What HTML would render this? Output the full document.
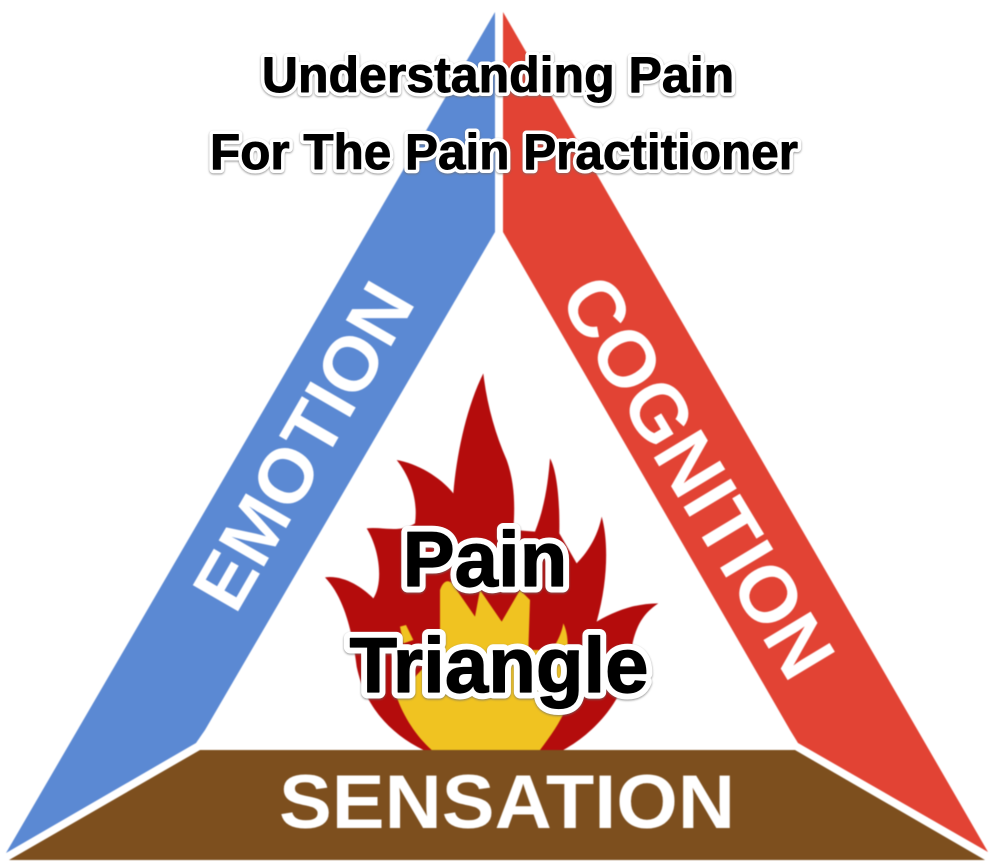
<!DOCTYPE html>
<html><head><meta charset="utf-8"><style>
html,body{margin:0;padding:0;background:#fff;width:1005px;height:868px;overflow:hidden}
svg{display:block}
text{font-family:"Liberation Sans",sans-serif;font-weight:bold}
.h{fill:#fff;stroke:#fff;stroke-linejoin:round;filter:drop-shadow(0 1px 1px rgba(110,110,110,.75))}
.o{fill:#000;stroke:#000;stroke-linejoin:round}
.w{fill:#fff}
.s{filter:blur(.5px)}
</style></head><body>
<svg width="1005" height="868" viewBox="0 0 1005 868" xmlns="http://www.w3.org/2000/svg">
<rect width="1005" height="868" fill="#fff"/>
<g class="s">
<polygon points="495,12 495,232 205,730 196,743 6,853" fill="#5b89d3"/>
<polygon points="503,12 503,232 790,730 798,743 988,852" fill="#e24334"/>
<g transform="translate(300 360) scale(.33333)">
<path fill="#b40c0c" d="M550 40 C560 130 585 220 620 300 C645 370 645 440 640 510 L705 515 C735 440 745 360 750 295 C770 330 780 420 778 520 L830 610 C870 570 895 520 905 470 C925 540 925 660 890 785 C950 750 1010 730 1075 730 C1030 760 1000 800 990 900 C980 1000 900 1110 790 1170 L370 1170 C270 1120 195 1040 170 920 C160 840 140 720 75 652 C130 645 185 680 220 715 C250 670 240 570 200 505 C250 500 300 520 345 490 C355 420 330 350 290 300 C350 310 420 350 460 400 C470 280 500 140 550 40 Z"/>
<path fill="#f0c321" d="M420 690 C430 660 450 650 470 690 L525 770 L540 690 L605 785 L660 690 L690 720 L685 870 L755 870 C770 850 785 820 790 790 C805 820 805 860 800 900 L800 1040 C780 1090 750 1130 720 1170 L395 1170 C350 1130 310 1070 290 1010 L420 870 Z"/>
<path fill="#f0c321" d="M300 800 L318 795 L340 840 L310 850 Z"/>
</g>
<polygon points="200,750 795,750 985,860 9,860" fill="#7d4f1e"/>
<text class="w" transform="translate(326 459) rotate(-60)" text-anchor="middle" font-size="76" textLength="362" lengthAdjust="spacingAndGlyphs">EMOTION</text>
<text class="w" transform="translate(674 491) rotate(59)" text-anchor="middle" font-size="80" textLength="452" lengthAdjust="spacingAndGlyphs">COGNITION</text>
<text class="w" x="507" y="828" text-anchor="middle" font-size="76" textLength="456" lengthAdjust="spacingAndGlyphs">SENSATION</text>
</g>
<text class="h" x="498" y="92" text-anchor="middle" font-size="50" stroke-width="8">Understanding Pain</text>
<text class="h" x="504" y="169" text-anchor="middle" font-size="50" stroke-width="8" textLength="588" lengthAdjust="spacingAndGlyphs">For The Pain Practitioner</text>
<text class="h" x="485" y="586" text-anchor="middle" font-size="78" stroke-width="13">Pain</text>
<text class="h" x="499" y="692" text-anchor="middle" font-size="78" stroke-width="13">Triangle</text>
<text class="o" x="498" y="92" text-anchor="middle" font-size="50" stroke-width=".9">Understanding Pain</text>
<text class="o" x="504" y="169" text-anchor="middle" font-size="50" stroke-width=".9" textLength="588" lengthAdjust="spacingAndGlyphs">For The Pain Practitioner</text>
<text class="o" x="485" y="586" text-anchor="middle" font-size="78" stroke-width="1.2">Pain</text>
<text class="o" x="499" y="692" text-anchor="middle" font-size="78" stroke-width="1.2">Triangle</text>
</svg>
</body></html>
